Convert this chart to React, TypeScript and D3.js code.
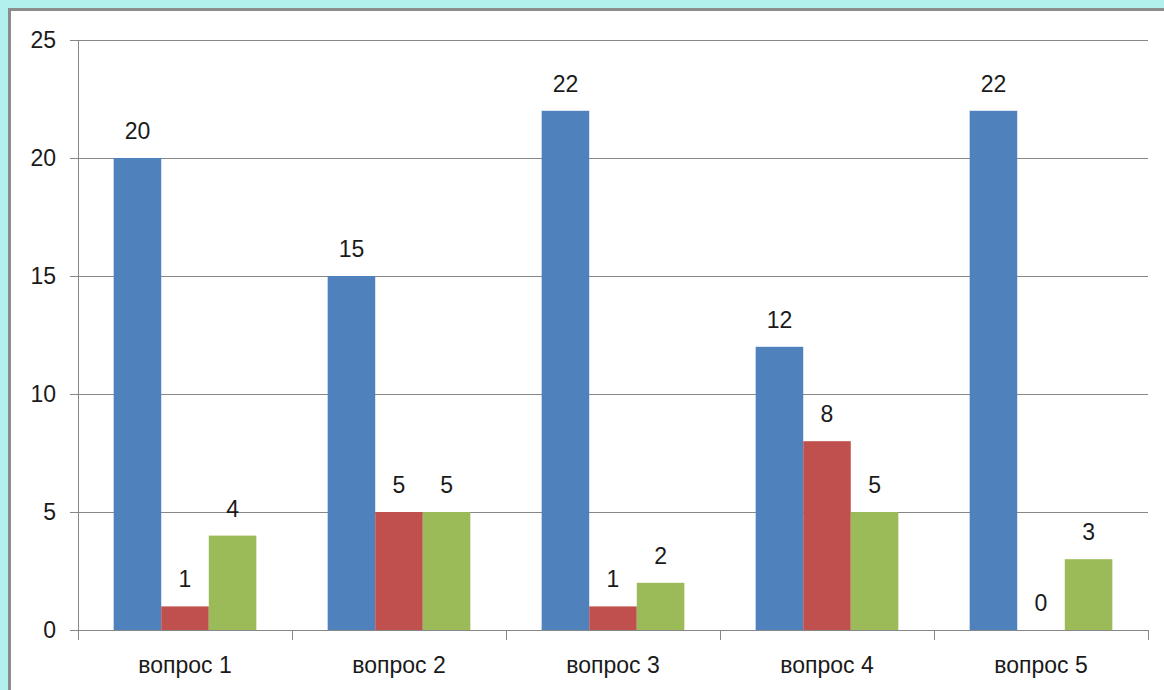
import * as d3 from "d3"

const categories = ["вопрос 1", "вопрос 2", "вопрос 3", "вопрос 4", "вопрос 5"]
const series = ["Ряд 1", "Ряд 2", "Ряд 3"]
const values1 = [20, 15, 22, 12, 22]
const values2 = [1, 5, 1, 8, 0]
const values3 = [4, 5, 2, 5, 3]
const yTicks = [0, 5, 10, 15, 20, 25]
const colors = ["#4F81BD", "#C0504D", "#9BBB59"]

const W = 1164
const H = 690
const FONT = "'Liberation Sans', Arial, sans-serif"
const plot = { left: 78, right: 1148, top: 40, bottom: 630 }

export default function App() {
  const rows = [values1, values2, values3]

  const x = d3
    .scaleBand<string>()
    .domain(categories)
    .range([plot.left, plot.right])
    .paddingInner(0)
    .paddingOuter(0)

  // Excel-like 150% gap: three bars fill 3/4.5 of each category band
  const inner = d3
    .scaleBand<string>()
    .domain(series)
    .range([0, x.bandwidth()])
    .paddingOuter(0.75)
    .paddingInner(0)

  const y = d3.scaleLinear().domain([0, 25]).range([plot.bottom, plot.top])

  const grid = "#878787"
  const boundaries = categories.map((c) => x(c)!).concat(plot.right)

  return (
    <svg
      width={W}
      height={H}
      viewBox={`0 0 ${W} ${H}`}
      style={{ position: "fixed", left: 0, top: 0, display: "block" }}
    >
      <rect x={0} y={0} width={W} height={H} fill="#B2F0EE" />
      <rect x={9.5} y={9.5} width={W + 20} height={H + 20} fill="#fff" stroke="#8c8c8c" strokeWidth={3} />

      {/* gridlines + y ticks */}
      <g>
        {yTicks.map((t) => (
          <g key={t}>
            <line
              x1={plot.left - 8}
              x2={plot.right}
              y1={Math.round(y(t)) + 0.5}
              y2={Math.round(y(t)) + 0.5}
              stroke={grid}
              strokeWidth={1}
            />
            <text
              x={56}
              y={y(t)}
              dy="0.36em"
              textAnchor="end"
              fontFamily={FONT}
              fontSize={23}
              fill="#1a1a1a"
            >
              {t}
            </text>
          </g>
        ))}
      </g>

      {/* bars */}
      {rows.map((vals, si) => (
        <g key={series[si]} fill={colors[si]}>
          {categories.map((c, ci) => {
            const bx = x(c)! + inner(series[si])!
            const v = vals[ci]
            return (
              <rect
                key={c}
                x={bx}
                y={y(v)}
                width={inner.bandwidth()}
                height={y(0) - y(v)}
              />
            )
          })}
        </g>
      ))}

      {/* data labels */}
      {rows.map((vals, si) => (
        <g key={`l${si}`}>
          {categories.map((c, ci) => {
            const cx = x(c)! + inner(series[si])! + inner.bandwidth() / 2
            const v = vals[ci]
            return (
              <text
                key={c}
                x={cx}
                y={y(v) - 19}
                textAnchor="middle"
                fontFamily={FONT}
                fontSize={23}
                fill="#1a1a1a"
              >
                {v}
              </text>
            )
          })}
        </g>
      ))}

      {/* axes */}
      <line x1={plot.left + 0.5} x2={plot.left + 0.5} y1={plot.top} y2={plot.bottom + 10} stroke={grid} />
      <line x1={plot.left} x2={plot.right} y1={plot.bottom + 0.5} y2={plot.bottom + 0.5} stroke={grid} />
      {boundaries.map((bx, i) => (
        <line
          key={i}
          x1={Math.round(bx) + 0.5}
          x2={Math.round(bx) + 0.5}
          y1={plot.bottom}
          y2={plot.bottom + 10}
          stroke={grid}
        />
      ))}

      {categories.map((c) => (
        <text
          key={c}
          x={x(c)! + x.bandwidth() / 2}
          y={673}
          textAnchor="middle"
          fontFamily={FONT}
          fontSize={23}
          fill="#1a1a1a"
        >
          {c}
        </text>
      ))}
    </svg>
  )
}
